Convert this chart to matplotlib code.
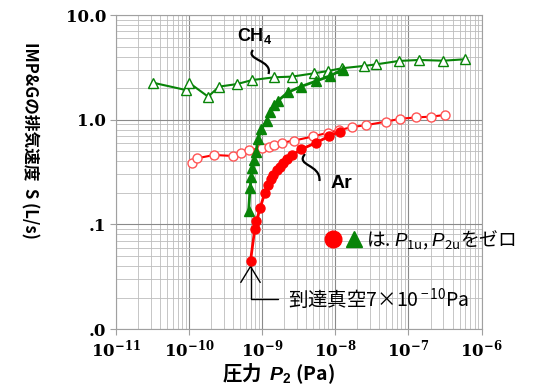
"""
IMP&G pumping speed vs pressure (CH4 / Ar), log-log chart.
"""

import matplotlib
matplotlib.use("Agg")
import matplotlib.pyplot as plt
from matplotlib.lines import Line2D
from matplotlib.legend_handler import HandlerTuple
from matplotlib.path import Path
from matplotlib.patches import PathPatch

CJK = ['Noto Sans CJK JP', 'DejaVu Sans']
plt.rcParams['font.family'] = CJK
plt.rcParams['mathtext.fontset'] = 'custom'
plt.rcParams['mathtext.rm'] = 'Noto Sans CJK JP'
plt.rcParams['mathtext.it'] = 'Liberation Sans:italic'
plt.rcParams['mathtext.bf'] = 'Liberation Sans:bold'
plt.rcParams['mathtext.bfit'] = 'Liberation Sans:italic:bold'

# CH4, open triangles
ch4_open_p = [3.2e-11, 9.1e-11, 1.0e-10, 1.83e-10, 2.59e-10, 4.56e-10, 7.3e-10,
              1.46e-9, 2.57e-9, 5.07e-9, 7.94e-9, 1.23e-8, 2.44e-8, 3.64e-8,
              7.4e-8, 1.39e-7, 3.0e-7, 5.96e-7]
ch4_open_s = [2.26, 1.92, 2.26, 1.66, 2.07, 2.19, 2.39, 2.54, 2.58, 2.77, 2.92,
              3.10, 3.26, 3.38, 3.64, 3.72, 3.66, 3.78]

# CH4, filled triangles (P1u, P2u = 0)
ch4_fill_p = [6.55e-10, 6.86e-10, 7.12e-10, 7.40e-10, 7.78e-10, 8.28e-10,
              8.81e-10, 9.75e-10, 1.15e-9, 1.29e-9, 1.47e-9, 1.64e-9, 2.24e-9,
              3.38e-9, 5.49e-9, 8.39e-9, 1.26e-8]
ch4_fill_s = [0.134, 0.223, 0.284, 0.349, 0.412, 0.491, 0.647, 0.815, 0.97,
              1.19, 1.38, 1.51, 1.82, 2.07, 2.34, 2.61, 3.01]

# Ar, open circles
ar_open_p = [1.12e-10, 1.30e-10, 2.21e-10, 4.02e-10, 5.12e-10, 6.58e-10,
             1.01e-9, 1.24e-9, 1.44e-9, 1.88e-9, 2.71e-9, 4.96e-9, 7.95e-9,
             1.12e-8, 1.71e-8, 2.60e-8, 4.87e-8, 7.68e-8, 1.25e-7, 2.05e-7,
             3.18e-7]
ar_open_s = [0.386, 0.428, 0.46, 0.45, 0.484, 0.514, 0.533, 0.552, 0.573,
             0.603, 0.63, 0.692, 0.75, 0.792, 0.851, 0.885, 0.957, 1.02, 1.05,
             1.07, 1.11]

# Ar, filled circles (P1u, P2u = 0)
ar_fill_p = [6.95e-10, 7.95e-10, 8.39e-10, 9.39e-10, 1.09e-9, 1.20e-9, 1.32e-9,
             1.40e-9, 1.59e-9, 1.74e-9, 1.94e-9, 2.17e-9, 2.54e-9, 3.38e-9,
             5.49e-9, 8.13e-9, 1.15e-8]
ar_fill_s = [0.0447, 0.0904, 0.1077, 0.1435, 0.1995, 0.2355, 0.274, 0.293,
             0.331, 0.357, 0.386, 0.421, 0.455, 0.519, 0.603, 0.692, 0.771]

x_ticks = [1e-11, 1e-10, 1e-9, 1e-8, 1e-7, 1e-6]
x_labels = [r'$\mathbf{10^{-11}}$', r'$\mathbf{10^{-10}}$', r'$\mathbf{10^{-9}}$',
            r'$\mathbf{10^{-8}}$', r'$\mathbf{10^{-7}}$', r'$\mathbf{10^{-6}}$']
y_ticks = [0.01, 0.1, 1.0, 10.0]
y_labels = ['.0', '.1', '1.0', '10.0']

GREEN = '#088408'
RED = '#ff0000'
RED_OPEN = '#ff5555'


def leader(ax, pts):
    """S-shaped leader line from 4 bezier points in axes coords"""
    path = Path(pts, [Path.MOVETO, Path.CURVE4, Path.CURVE4, Path.CURVE4])
    ax.add_patch(PathPatch(path, fc='none', ec='black', lw=1.6,
                           transform=ax.transAxes, clip_on=False))


def px(x, y):
    # pixel position in the picture -> axes fraction
    return ((x - 115.7) / 366.0, (329.0 - y) / 314.0)


fig = plt.figure(figsize=(5.38, 3.89), dpi=100)
ax = fig.add_axes([0.215, 0.1542, 0.6803, 0.8072])
ax.set_xscale('log')
ax.set_yscale('log')
ax.set_xlim(1e-11, 1e-6)
ax.set_ylim(0.01, 10)

ax.grid(True, which='major', color='#8a8a8a', lw=0.8)
ax.grid(True, which='minor', color='#bdbdbd', lw=0.6)
ax.set_axisbelow(True)
for s in ax.spines.values():
    s.set_color('#a0a0a0')

ax.plot(ch4_open_p, ch4_open_s, color=GREEN, lw=1.5, marker='^', ms=7,
        mfc='white', mec=GREEN, mew=1.0, zorder=3)
ax.plot(ar_open_p, ar_open_s, color=RED, lw=1.5, marker='o', ms=6.5,
        mfc='white', mec=RED_OPEN, mew=1.0, zorder=3)
ax.plot(ch4_fill_p, ch4_fill_s, color=GREEN, lw=2, marker='^', ms=6.5,
        mfc=GREEN, mec=GREEN, zorder=4)
ax.plot(ar_fill_p, ar_fill_s, color=RED, lw=2, marker='o', ms=6.5,
        mfc=RED, mec=RED, zorder=4)

ax.set_xticks(x_ticks)
ax.set_xticklabels(x_labels, math_fontfamily='dejavuserif', fontsize=12)
ax.set_yticks(y_ticks)
ax.set_yticklabels(y_labels, family='DejaVu Serif', fontweight='bold',
                   fontsize=12)
ax.tick_params(which='major', length=4, color='#a0a0a0', pad=3)
ax.tick_params(which='minor', length=0)

# labels on the curves
ax.text(*px(255, 36), 'CH$_\\mathbf{4}$', family='Liberation Sans',
        fontweight='bold', fontsize=13, ha='center', va='center',
        transform=ax.transAxes)
leader(ax, [px(253, 50), px(245, 60), px(273, 60), px(268.5, 74)])
ax.text(*px(341, 183), 'Ar', family='Liberation Sans', fontweight='bold',
        fontsize=14, ha='center', va='center', transform=ax.transAxes)
leader(ax, [px(305, 154), px(295, 166), px(321, 164), px(319.5, 181)])

# legend for the filled symbols
h_c = Line2D([], [], ls='none', marker='o', ms=12, color=RED)
h_t = Line2D([], [], ls='none', marker='^', ms=11, color=GREEN)
ax.legend(handles=[(h_c, h_t)],
          labels=['は. $P_{\\rm 1u}$, $P_{\\rm 2u}$をゼロ'],
          handler_map={tuple: HandlerTuple(ndivide=None, pad=0)},
          loc='center left', bbox_to_anchor=px(322, 240), frameon=False,
          borderpad=0, borderaxespad=0, handlelength=2.3, handletextpad=0.05,
          prop={'family': CJK, 'size': 13.5})

# base pressure arrow
ax.annotate('到達真空7×10$^{\\rm -10}$Pa', xy=(ar_fill_p[0], ar_fill_s[0]),
            xytext=px(288, 299), textcoords='axes fraction',
            ha='left', va='center', fontsize=14,
            arrowprops=dict(arrowstyle='->,head_length=1.15,head_width=0.7',
                            connectionstyle='angle,angleA=0,angleB=90,rad=0',
                            color='black', lw=1.0, mutation_scale=10,
                            relpos=(0, 0.5), shrinkA=5, shrinkB=3))

fig.text(30 / 538, 1 - 140 / 389, 'IMP&Gの排気速度  S (L/s)', rotation=270,
         ha='center', va='center', fontweight='bold', fontsize=12)
fig.text(278 / 538, 1 - 374 / 389, '圧力  $\\mathbfit{P}_{\\mathbf{2}}$ (Pa)',
         ha='center', va='center', fontweight='bold', fontsize=14)

fig.savefig('out.png', dpi=100)
